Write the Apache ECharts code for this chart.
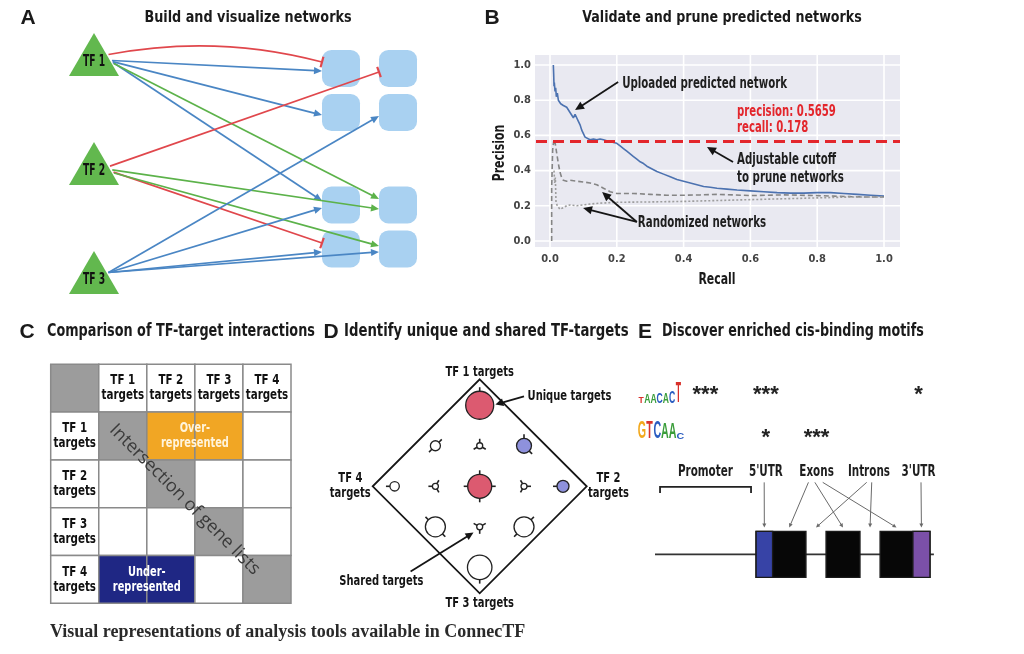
<!DOCTYPE html>
<html><head><meta charset="utf-8">
<script src="https://cdn.jsdelivr.net/npm/echarts@6.0.0/dist/echarts.min.js"></script>
<style>html,body{margin:0;padding:0;background:#fff}#chart{width:1024px;height:654px}</style>
</head><body><div id="chart"></div>
<script>
const COND = "'Liberation Sans Narrow','DejaVu Sans Condensed','Roboto Condensed',Roboto,sans-serif";
const SANS = "'Liberation Sans',Arial,sans-serif";
const SERIF = "'Liberation Serif','DejaVu Serif',serif";

// ---------- Panel A : network ----------
const tfLabels = ['TF 1', 'TF 2', 'TF 3'];
const tfX = [0, 0, 0];
const tfY = [0, 0.5, 1];
const targetX = [0.8125, 1, 0.8125, 1, 0.8125, 1, 0.8125, 1];
const targetY = [0.064, 0.064, 0.266, 0.266, 0.69, 0.69, 0.892, 0.892];
const edgeSource = [0, 0, 0, 0, 0, 1, 1, 1, 1, 2, 2, 2, 2];
const edgeTarget = [0, 0, 2, 4, 5, 1, 5, 6, 7, 3, 4, 6, 7];
const edgeKind = [0, 1, 1, 1, 2, 0, 2, 0, 2, 1, 1, 1, 1]; // 0 repress, 1 activate, 2 activate (2nd evidence)
const edgeSrcPort = [0, 0.28, 0.33, 0.37, 0.42, 0.12, 0.3, 0.4, 0.44, 0, 0, 0, 0];
const edgeTgtPort = [-0.35, 0.14, 0.14, -0.22, -0.32, 0.19, 0.22, -0.32, -0.16, 0.19, 0.16, 0.16, 0.16];
const edgeCurve = [0.114, 0, 0, 0, 0, 0, 0, 0, 0, 0, 0, 0, 0];

// ---------- Panel B : precision / recall ----------
const bTicks = [0, 0.2, 0.4, 0.6, 0.8, 1.0];
const bBlueRecall = [0.010,0.011,0.012,0.013,0.015,0.017,0.019,0.022,0.025,0.028,0.032,0.036,0.040,0.045,0.050,0.055,0.060,0.065,0.070,0.075,0.080,0.085,0.090,0.095,0.100,0.105,0.110,0.120,0.130,0.140,0.150,0.160,0.170,0.180,0.190,0.200,0.210,0.220,0.230,0.240,0.250,0.260,0.270,0.280,0.290,0.300,0.320,0.340,0.360,0.380,0.400,0.420,0.440,0.460,0.480,0.500,0.530,0.560,0.600,0.640,0.680,0.720,0.760,0.800,0.840,0.880,0.920,0.960,1.000];
const bBluePrecision = [1.00,0.95,0.88,0.90,0.85,0.87,0.82,0.84,0.80,0.81,0.78,0.79,0.77,0.78,0.76,0.75,0.73,0.72,0.70,0.72,0.71,0.68,0.66,0.63,0.61,0.59,0.58,0.575,0.58,0.575,0.58,0.575,0.57,0.57,0.56,0.555,0.54,0.525,0.51,0.495,0.48,0.465,0.45,0.44,0.425,0.415,0.395,0.38,0.365,0.35,0.34,0.33,0.32,0.31,0.305,0.30,0.295,0.29,0.285,0.28,0.275,0.272,0.272,0.275,0.275,0.27,0.265,0.26,0.255];
const bRandDashRecall = [0.005,0.005,0.008,0.012,0.016,0.020,0.025,0.030,0.035,0.040,0.050,0.060,0.080,0.100,0.120,0.140,0.160,0.180,0.200,0.250,0.300,0.350,0.400,0.450,0.500,0.550,0.600,0.650,0.700,0.750,0.800,0.850,0.900,0.950,1.000];
const bRandDashPrecision = [0.00,0.30,0.52,0.58,0.55,0.50,0.44,0.39,0.36,0.345,0.34,0.345,0.34,0.335,0.33,0.32,0.30,0.28,0.27,0.27,0.265,0.26,0.26,0.262,0.265,0.262,0.258,0.26,0.262,0.26,0.258,0.255,0.252,0.25,0.25];
const bRandDotRecall = [0.012,0.014,0.016,0.018,0.022,0.030,0.040,0.050,0.060,0.080,0.100,0.120,0.150,0.200,0.300,0.400,0.500,0.600,0.700,0.800,0.900,1.000];
const bRandDotPrecision = [0.40,0.33,0.36,0.22,0.20,0.18,0.19,0.20,0.205,0.20,0.205,0.21,0.215,0.22,0.222,0.225,0.23,0.235,0.24,0.245,0.25,0.25];
const bCutoffPrecision = 0.5659;
const bCutoffRecall = 0.178;
const bNoteText = ['Uploaded predicted network', 'precision: ' + bCutoffPrecision, 'recall: ' + bCutoffRecall, 'Adjustable cutoff', 'to prune networks', 'Randomized networks'];
const bNoteX = [0.216, 0.56, 0.56, 0.56, 0.56, 0.263];
const bNoteY = [0.892, 0.733, 0.642, 0.46, 0.358, 0.102];
const bArrowFrom = [[0.204, 0.903], [0.548, 0.449], [0.26, 0.108], [0.26, 0.108]];
const bArrowTo = [[0.075, 0.744], [0.47, 0.534], [0.156, 0.278], [0.099, 0.1875]];

// ---------- Panel C : comparison table ----------
const cHeaders = ['TF 1\ntargets', 'TF 2\ntargets', 'TF 3\ntargets', 'TF 4\ntargets'];
const cCells = [
  [1, 0, 0, 0, 0],
  [0, 1, 2, 2, 0],
  [0, 0, 1, 0, 0],
  [0, 0, 0, 1, 0],
  [0, 3, 3, 0, 1]
]; // 0 none, 1 self intersection, 2 over-represented, 3 under-represented
const cBlockText = ['Over-\nrepresented', 'Under-\nrepresented'];
const cBlockCol = [3, 2];
const cBlockRow = [1.5, 4.5];

// ---------- Panel D : unique / shared targets ----------
const dGlyphX = [0, -1, 0, 1, -1.92, -1, 0, 1, 1.88, -1, 0, 1, 0];
const dGlyphY = [-2, -1, -1, -1, 0, 0, 0, 0, 0, 1, 1, 1, 2];
const dGlyphCount = [196, 25, 9, 56, 22, 9, 144, 9, 36, 100, 9, 100, 150];
const dGlyphClass = [1, 0, 0, 2, 0, 0, 1, 0, 2, 0, 0, 0, 0];
const dGlyphTicks = [[90], [45, 225], [90, 210, 330], [90, 315], [180], [180, 60, 300], [0, 90, 180, 270], [0, 120, 240], [180], [135, 315], [270, 30, 150], [45, 225], [270]];
const dLabelText = ['TF 1 targets', 'TF 2\ntargets', 'TF 3 targets', 'TF 4\ntargets', 'Unique targets', 'Shared targets'];
const dLabelX = [0, 2.905, 0, -2.92, 1.08, -2.22];
const dLabelY = [-2.82, 0, 2.89, 0, -2.23, 2.34];
const dArrowFrom = [[1.0, -2.22], [-1.56, 2.10]];
const dArrowTo = [[0.354, -2.02], [-0.14, 1.14]];

// ---------- Panel E : motifs ----------
const eFeatures = ['Promoter', "5'UTR", 'Exons', 'Introns', "3'UTR"];
const eFeatureX = [18.0, 39.6, 57.7, 76.4, 94.1];
const eMotifStars = [['***', '***', '', '', '*'], ['', '*', '***', '', '']];
const eMotifRowY = [10.3, 31];
const eLogo1Letters = ['T', 'A', 'A', 'C', 'A', 'C', 'T'];
const eLogo1Bits = [0.65, 0.85, 0.85, 1.0, 0.9, 1.05, 1.9];
const eLogo2Letters = ['G', 'T', 'C', 'A', 'A', 'C'];
const eLogo2Bits = [1.55, 1.55, 1.55, 1.5, 1.45, 0.55];
const eGeneSpan = [0, 99.6];
const ePromoter = [1.8, 34.3];
const eExonStart = [36.1, 61.1, 80.4];
const eExonEnd = [53.9, 73.2, 98.2];
const eUTR5 = [36.1, 42.0];
const eUTR3 = [92.1, 98.2];
const ePointerLabel = [1, 2, 2, 2, 3, 3, 4];
const ePointerTarget = [39.05, 47.95, 67.15, 86.25, 57.5, 76.8, 95.15];
const ePointerSpread = [-0.6, -2.9, -0.6, 2.2, -0.8, 1.0, 0.9];

// ================= helpers =================
function arrowEls(x1, y1, x2, y2, color, lw, hl, hw) {
  const dx = x2 - x1, dy = y2 - y1, L = Math.hypot(dx, dy), ux = dx / L, uy = dy / L;
  const bx = x2 - ux * hl, by = y2 - uy * hl;
  return [
    {type: 'line', shape: {x1: x1, y1: y1, x2: bx + ux * 1, y2: by + uy * 1}, style: {stroke: color, lineWidth: lw}},
    {type: 'polygon', shape: {points: [[x2, y2], [bx - uy * hw, by + ux * hw], [bx + uy * hw, by - ux * hw]]}, style: {fill: color}}
  ];
}
function axisPair(i, xmin, xmax, ymin, ymax, inv) {
  return {
    x: {type: 'value', gridIndex: i, min: xmin, max: xmax, show: false},
    y: {type: 'value', gridIndex: i, min: ymin, max: ymax, show: false, inverse: !!inv}
  };
}
// text drawn through the grid's scales (custom series, not clipped), with horizontal condensing
function textLayer(gi, xs, ys, texts, st, perItem) {
  return {
    type: 'custom', xAxisIndex: gi, yAxisIndex: gi, z: 20, silent: true,
    data: texts.map((t, i) => [xs[i], ys[i]]),
    renderItem: function (params, api) {
      const i = params.dataIndex;
      const o = Object.assign({}, st, perItem ? perItem(i) : {});
      const p = api.coord([xs[i], ys[i]]);
      return {type: 'text', x: p[0] + (o.dx || 0), y: p[1] + (o.dy || 0), scaleX: o.sx || 1, rotation: o.rot || 0,
              style: {text: texts[i], font: o.font, fill: o.color, align: o.align || 'center', verticalAlign: 'middle', lineHeight: o.lineHeight || undefined}};
    }
  };
}
function gtext(x, y, text, font, sx, align, extra) {
  return Object.assign({type: 'text', x: x, y: y, scaleX: sx, silent: true,
    style: {text: text, font: font, fill: '#1a1a1a', align: align || 'center', verticalAlign: 'middle'}}, extra || {});
}

const edgeColors = ['#e0474c', '#4a86c4', '#5cb24a'];
const axA = axisPair(0, 0, 1, 0, 1, true);
const axB = {
  x: {type: 'value', gridIndex: 1, min: 0, max: 1, interval: 0.2,
      axisLine: {show: false}, axisTick: {show: false}, splitLine: {show: false},
      axisLabel: {formatter: v => v.toFixed(1), margin: 13, fontFamily: COND, fontWeight: 'bold', fontSize: 11, color: '#444'}},
  y: {type: 'value', gridIndex: 1, min: 0, max: 1, interval: 0.2,
      axisLine: {show: false}, axisTick: {show: false}, splitLine: {show: false},
      axisLabel: {formatter: v => v.toFixed(1), margin: 19, fontFamily: COND, fontWeight: 'bold', fontSize: 11, color: '#444'}}
};
const axC = axisPair(2, 0, 5, 0, 5, true);
const axD = axisPair(3, -2.415, 2.415, -2.64, 2.64, true);
const axE = axisPair(4, 0, 100, 0, 100, true);

const grids = [
  {left: 94, top: 54.5, width: 304, height: 218},
  {left: 550, top: 65, width: 334, height: 176},
  {left: 50.7, top: 364.3, width: 240.3, height: 239},
  {left: 372.7, top: 379.3, width: 214, height: 214},
  {left: 655, top: 370, width: 280, height: 210}
].map(g => Object.assign({outerBoundsMode: 'none', containLabel: false, show: false}, g));

const zip = (a, b) => a.map((v, i) => [v, b[i]]);
const letterColor = {A: '#3a9d3a', C: '#2a5cc0', G: '#f2a81d', T: '#d8312b'};

const series = [
  // ---- A: target genes
  {type: 'scatter', xAxisIndex: 0, yAxisIndex: 0, z: 2, silent: true,
   symbol: 'roundRect', symbolSize: [38, 37], itemStyle: {color: '#a9d1f1', opacity: 1},
   data: zip(targetX, targetY)},
  // ---- A: edges
  {type: 'custom', xAxisIndex: 0, yAxisIndex: 0, z: 3, silent: true,
   data: edgeSource.map((s, i) => [tfX[s], tfY[s], targetX[edgeTarget[i]], targetY[edgeTarget[i]]]),
   encode: {x: [0, 2], y: [1, 3]},
   renderItem: function (params, api) {
     const i = params.dataIndex;
     const s = edgeSource[i], t = edgeTarget[i];
     const c = api.coord([tfX[s], tfY[s]]);
     const tc = api.coord([targetX[t], targetY[t]]);
     const halfH = 21.5, halfBase = 25;
     const dy = edgeSrcPort[i] * halfH;
     const x1 = c[0] + halfBase * (dy + halfH) / (2 * halfH) + 2, y1 = c[1] + dy;
     const x2 = tc[0] - 19, y2 = tc[1] + edgeTgtPort[i] * 18.5;
     const color = edgeColors[edgeKind[i]];
     const L = Math.hypot(x2 - x1, y2 - y1);
     let ux, uy;
     const children = [];
     if (edgeCurve[i]) {
       const cx = (x1 + x2) / 2 + edgeCurve[i] * (y2 - y1), cy = (y1 + y2) / 2 - edgeCurve[i] * (x2 - x1);
       const d = Math.hypot(x2 - cx, y2 - cy); ux = (x2 - cx) / d; uy = (y2 - cy) / d;
       children.push({type: 'bezierCurve', shape: {x1: x1, y1: y1, cpx1: cx, cpy1: cy, x2: x2, y2: y2}, style: {stroke: color, lineWidth: 1.7, fill: null}});
     } else {
       ux = (x2 - x1) / L; uy = (y2 - y1) / L;
     }
     if (edgeKind[i] === 0) {
       if (!edgeCurve[i]) children.push({type: 'line', shape: {x1: x1, y1: y1, x2: x2, y2: y2}, style: {stroke: color, lineWidth: 1.7}});
       children.push({type: 'line', shape: {x1: x2 - uy * 5.5, y1: y2 + ux * 5.5, x2: x2 + uy * 5.5, y2: y2 - ux * 5.5}, style: {stroke: color, lineWidth: 2.2}});
     } else {
       arrowEls(x1, y1, x2, y2, color, 1.7, 8, 3.6).forEach(e => children.push(e));
     }
     return {type: 'group', children: children};
   }},
  // ---- A: TFs
  {type: 'scatter', xAxisIndex: 0, yAxisIndex: 0, z: 4, silent: true,
   symbol: 'triangle', symbolSize: [50, 43], itemStyle: {color: '#62b84e', opacity: 1},
   data: zip(tfX, tfY)},
  textLayer(0, tfX, tfY, tfLabels, {font: 'bold 15px ' + COND, color: '#101010', sx: 0.68, dy: 8}),

  // ---- B: background, grid lines, cutoff
  {type: 'custom', xAxisIndex: 1, yAxisIndex: 1, z: 0, silent: true, data: [[0, 0]],
   renderItem: function (params, api) {
     const cs = params.coordSys;
     const L = cs.x - 15, R = cs.x + cs.width + 16, T = cs.y - 10, B = cs.y + cs.height + 6;
     const ch = [{type: 'rect', shape: {x: L, y: T, width: R - L, height: B - T}, style: {fill: '#e9e9f1'}}];
     bTicks.forEach(v => {
       const px = api.coord([v, 0])[0], py = api.coord([0, v])[1];
       ch.push({type: 'line', shape: {x1: px, y1: T, x2: px, y2: B}, style: {stroke: '#ffffff', lineWidth: 1.6}});
       ch.push({type: 'line', shape: {x1: L, y1: py, x2: R, y2: py}, style: {stroke: '#ffffff', lineWidth: 1.6}});
     });
     return {type: 'group', children: ch};
   }},
  {type: 'line', xAxisIndex: 1, yAxisIndex: 1, z: 3, silent: true, symbol: 'none',
   lineStyle: {color: '#4c72b0', width: 1.6}, data: zip(bBlueRecall, bBluePrecision)},
  {type: 'line', xAxisIndex: 1, yAxisIndex: 1, z: 3, silent: true, symbol: 'none',
   lineStyle: {color: '#858585', width: 1.6, type: [5, 3]}, data: zip(bRandDashRecall, bRandDashPrecision)},
  {type: 'line', xAxisIndex: 1, yAxisIndex: 1, z: 3, silent: true, symbol: 'none',
   lineStyle: {color: '#9d9d9d', width: 1.6, type: [2, 2]}, data: zip(bRandDotRecall, bRandDotPrecision)},
  {type: 'custom', xAxisIndex: 1, yAxisIndex: 1, z: 5, silent: true, data: [[0, bCutoffPrecision]],
   renderItem: function (params, api) {
     const cs = params.coordSys;
     const y = api.coord([0, bCutoffPrecision])[1];
     return {type: 'line', shape: {x1: cs.x - 14, y1: y, x2: cs.x + cs.width + 16, y2: y},
             style: {stroke: '#e3262c', lineWidth: 3, lineDash: [11, 6]}};
   }},
  {type: 'custom', xAxisIndex: 1, yAxisIndex: 1, z: 6, silent: true,
   data: bArrowFrom.map((f, i) => [f[0], f[1], bArrowTo[i][0], bArrowTo[i][1]]),
   renderItem: function (params, api) {
     const i = params.dataIndex;
     const a = api.coord(bArrowFrom[i]), b = api.coord(bArrowTo[i]);
     return {type: 'group', children: arrowEls(a[0], a[1], b[0], b[1], '#151515', 1.8, 9, 4.2)};
   }},
  textLayer(1, bNoteX, bNoteY, bNoteText,
    {font: 'bold 15px ' + COND, color: '#1e1e1e', align: 'left', sx: 0.76},
    i => (i === 1 || i === 2) ? {color: '#e3262c', sx: 0.75} : {}),

  // ---- C: table
  {type: 'custom', xAxisIndex: 2, yAxisIndex: 2, z: 2, silent: true,
   data: cCells.flatMap((row, r) => row.map((v, c) => [c, r, v])),
   renderItem: function (params, api) {
     const c = api.value(0), r = api.value(1), v = api.value(2);
     const p0 = api.coord([c, r]), p1 = api.coord([c + 1, r + 1]);
     const fills = ['#ffffff', '#9c9c9c', '#f1a624', '#1f2784'];
     return {type: 'rect', shape: {x: p0[0], y: p0[1], width: p1[0] - p0[0], height: p1[1] - p0[1]},
             style: {fill: fills[v], stroke: '#8a8a8a', lineWidth: 1.5}};
   }},
  textLayer(2, [1.5, 2.5, 3.5, 4.5, 0.5, 0.5, 0.5, 0.5], [0.5, 0.5, 0.5, 0.5, 1.5, 2.5, 3.5, 4.5],
    cHeaders.concat(cHeaders),
    {font: 'bold 14px ' + COND, lineHeight: 15, color: '#111', sx: 0.82}),
  textLayer(2, cBlockCol, cBlockRow, cBlockText,
    {font: 'bold 14px ' + COND, lineHeight: 15, sx: 0.78},
    i => ({color: i === 0 ? '#fff4dc' : '#ffffff'})),
  textLayer(2, [2.79], [2.83], ['Intersection of gene lists'],
    {font: "18px 'Open Sans',sans-serif", color: '#3a3a3a', rot: -Math.PI / 4}),

  // ---- D: diamond
  {type: 'custom', xAxisIndex: 3, yAxisIndex: 3, z: 2, silent: true, data: [[0, 0]],
   renderItem: function (params, api) {
     const pts = [[0, -2.64], [2.415, 0], [0, 2.64], [-2.415, 0]].map(p => api.coord(p));
     return {type: 'polygon', shape: {points: pts}, style: {fill: null, stroke: '#151515', lineWidth: 1.8}};
   }},
  {type: 'custom', xAxisIndex: 3, yAxisIndex: 3, z: 3, silent: true, data: zip(dGlyphX, dGlyphY),
   renderItem: function (params, api) {
     const i = params.dataIndex;
     const p = api.coord([dGlyphX[i], dGlyphY[i]]);
     const r = Math.sqrt(dGlyphCount[i]);
     const fills = ['#ffffff', '#dc5a70', '#8e91dc'];
     const ch = [{type: 'circle', shape: {cx: p[0], cy: p[1], r: r}, style: {fill: fills[dGlyphClass[i]], stroke: '#222', lineWidth: 1.3}}];
     dGlyphTicks[i].forEach(a => {
       const rad = a * Math.PI / 180, cx = Math.cos(rad), cy = -Math.sin(rad);
       ch.push({type: 'line', shape: {x1: p[0] + cx * r, y1: p[1] + cy * r, x2: p[0] + cx * (r + 4), y2: p[1] + cy * (r + 4)}, style: {stroke: '#222', lineWidth: 1.6}});
     });
     return {type: 'group', children: ch};
   }},
  {type: 'custom', xAxisIndex: 3, yAxisIndex: 3, z: 4, silent: true,
   data: dArrowFrom.map((f, i) => [f[0], f[1], dArrowTo[i][0], dArrowTo[i][1]]),
   renderItem: function (params, api) {
     const i = params.dataIndex;
     const a = api.coord(dArrowFrom[i]), b = api.coord(dArrowTo[i]);
     return {type: 'group', children: arrowEls(a[0], a[1], b[0], b[1], '#151515', 1.8, 8, 3.8)};
   }},
  textLayer(3, dLabelX, dLabelY, dLabelText,
    {font: 'bold 14px ' + COND, lineHeight: 15, color: '#151515', sx: 0.79},
    i => i === 4 ? {align: 'left'} : {}),

  // ---- E: gene model
  {type: 'custom', xAxisIndex: 4, yAxisIndex: 4, z: 2, silent: true, data: [[0, 0]],
   renderItem: function (params, api) {
     const ch = [];
     const gy = api.coord([0, 87.8])[1];
     const g0 = api.coord([eGeneSpan[0], 0])[0], g1 = api.coord([eGeneSpan[1], 0])[0];
     ch.push({type: 'line', shape: {x1: g0, y1: gy, x2: g1, y2: gy}, style: {stroke: '#333', lineWidth: 1.8}});
     const box = (a, b, fill) => {
       const x0 = api.coord([a, 0])[0], x1 = api.coord([b, 0])[0];
       ch.push({type: 'rect', shape: {x: x0, y: gy - 23, width: x1 - x0, height: 46}, style: {fill: fill, stroke: '#1a1a1a', lineWidth: 1.4}});
     };
     eExonStart.forEach((s, k) => box(s, eExonEnd[k], '#070707'));
     box(eUTR5[0], eUTR5[1], '#3743a6');
     box(eUTR3[0], eUTR3[1], '#7b50a8');
     const b0 = api.coord([ePromoter[0], 55.7]), b1 = api.coord([ePromoter[1], 55.7]);
     ch.push({type: 'polyline', shape: {points: [[b0[0], b0[1] + 6], [b0[0], b0[1]], [b1[0], b1[1]], [b1[0], b1[1] + 6]]}, style: {stroke: '#222', lineWidth: 1.8, fill: null}});
     ePointerTarget.forEach((tx, k) => {
       const a = api.coord([eFeatureX[ePointerLabel[k]] + ePointerSpread[k], 53.5]);
       const b = api.coord([tx, 75]);
       arrowEls(a[0], a[1], b[0], b[1], '#6a6a6a', 1, 4, 2).forEach(e => ch.push(e));
     });
     return {type: 'group', children: ch};
   }},
  textLayer(4, eFeatureX, eFeatureX.map(() => 48.4), eFeatures,
    {font: 'bold 15px ' + COND, color: '#1e1e1e', sx: 0.77}),
  textLayer(4,
    eMotifStars.flatMap(row => row.map((s, k) => eFeatureX[k])),
    eMotifStars.flatMap((row, m) => row.map(() => eMotifRowY[m])),
    eMotifStars.flatMap(row => row),
    {font: 'bold 22px ' + SANS, color: '#222', dy: 3}),
  {type: 'custom', xAxisIndex: 4, yAxisIndex: 4, z: 3, silent: true,
   data: eLogo1Letters.map((l, k) => [0, k]).concat(eLogo2Letters.map((l, k) => [1, k])),
   renderItem: function (params, api) {
     const m = api.value(0), k = api.value(1);
     const letters = m === 0 ? eLogo1Letters : eLogo2Letters;
     const bits = m === 0 ? eLogo1Bits : eLogo2Bits;
     const colW = m === 0 ? 6.2 : 7.7;
     const base = api.coord([-6.07, m === 0 ? 16.2 : 32.9]);
     const h = bits[k] * 11;
     const sy = h / 7.2, sx = colW / 7.2;
     return {type: 'text', x: base[0] + colW * (k + 0.5), y: base[1] + 1.6 * sy, scaleX: sx, scaleY: sy,
             style: {text: letters[k], font: 'bold 10px ' + SANS, fill: letterColor[letters[k]], align: 'center', verticalAlign: 'bottom'}};
   }}
];

const LET = 'bold 21px ' + SANS;
const graphic = [
  gtext(28, 18, 'A', LET, 1),
  gtext(248, 18, 'Build and visualize networks', 'bold 16px ' + COND, 0.89),
  gtext(492, 18, 'B', LET, 1),
  gtext(722, 18, 'Validate and prune predicted networks', 'bold 16px ' + COND, 0.88),
  gtext(27, 332, 'C', LET, 1),
  gtext(47, 332, 'Comparison of TF-target interactions', 'bold 17px ' + COND, 0.838, 'left'),
  gtext(331, 332, 'D', LET, 1),
  gtext(344, 332, 'Identify unique and shared TF-targets', 'bold 17px ' + COND, 0.866, 'left'),
  gtext(645, 332, 'E', LET, 1),
  gtext(662, 332, 'Discover enriched cis-binding motifs', 'bold 17px ' + COND, 0.83, 'left'),
  gtext(500, 153, 'Precision', 'bold 15px ' + COND, 0.81, 'center', {rotation: Math.PI / 2}),
  gtext(717, 280, 'Recall', 'bold 15px ' + COND, 0.81),
  {type: 'text', x: 50, y: 632, silent: true, style: {text: 'Visual representations of analysis tools available in ConnecTF', font: 'bold 18px ' + SERIF, fill: '#2a2a2a', align: 'left', verticalAlign: 'middle'}}
];

const chart = echarts.init(document.getElementById('chart'), null, {renderer: 'canvas'});
chart.setOption({
  animation: false,
  backgroundColor: '#ffffff',
  grid: grids,
  xAxis: [axA.x, axB.x, axC.x, axD.x, axE.x],
  yAxis: [axA.y, axB.y, axC.y, axD.y, axE.y],
  series: series,
  graphic: graphic
});
</script></body></html>
